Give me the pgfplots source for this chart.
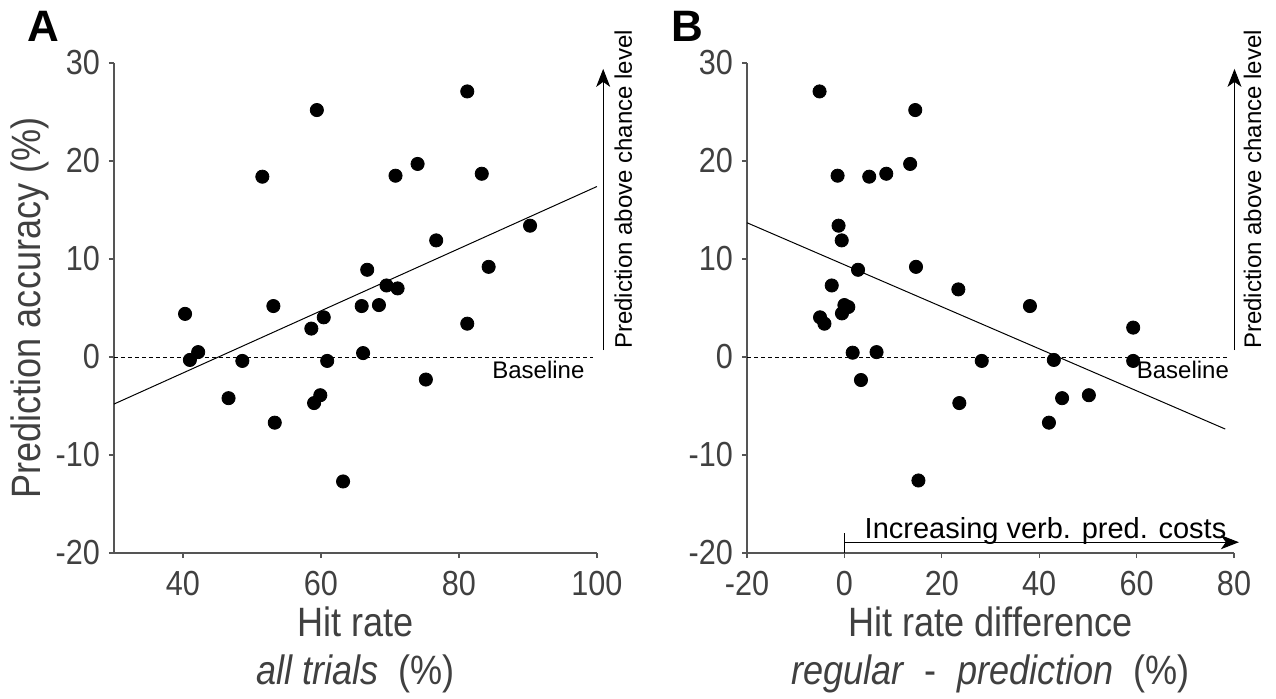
\documentclass[border=0pt]{standalone}
\usepackage{pgfplots}
\pgfplotsset{compat=1.18}
\usepackage{pgfplotstable}
\usepackage{fontspec}
\setmainfont{Liberation Sans}
\newfontfamily\narrowfont{Liberation Sans}[FakeStretch=0.88]
\usetikzlibrary{arrows.meta}
\definecolor{txt}{HTML}{404040}
\definecolor{axc}{HTML}{555555}

\pgfplotstableread{
x y
40.3 4.4
41.0 -0.3
42.2 0.5
46.6 -4.2
48.6 -0.4
51.5 18.4
53.1 5.2
53.3 -6.7
58.6 2.9
59.0 -4.7
59.4 25.2
59.9 -3.9
60.4 4.05
60.9 -0.4
63.2 -12.7
65.9 5.2
66.1 0.4
66.7 8.9
68.4 5.3
69.5 7.3
70.8 18.5
71.1 7.0
74.0 19.7
75.2 -2.3
76.7 11.9
81.2 27.1
81.2 3.4
83.3 18.7
84.3 9.2
90.3 13.4
}\dataA

\pgfplotstableread{
x y
-5.1 27.1
14.55 25.2
-1.4 18.5
5.1 18.4
8.6 18.7
13.5 19.7
-1.2 13.4
-0.55 11.9
2.8 8.9
14.7 9.2
23.4 6.9
-2.6 7.3
0.0 5.3
0.8 5.1
-5.0 4.05
-4.1 3.4
-0.5 4.45
1.7 0.44
6.6 0.5
3.4 -2.35
23.6 -4.7
15.2 -12.6
38.1 5.2
59.3 3.0
28.2 -0.4
43.0 -0.3
59.3 -0.4
44.7 -4.2
50.2 -3.9
42.0 -6.7
}\dataB

\begin{document}
\begin{tikzpicture}
\useasboundingbox (0,0) rectangle (638pt,349pt);
\pgfplotsset{
  panel/.style={
    scale only axis, height=245pt,
    axis x line=bottom, axis y line=left,
    axis line style={-, draw=axc, line width=0.6pt},
    tick align=outside, major tick length=2.5pt,
    tick style={draw=axc, line width=0.6pt},
    ymin=-20, ymax=30, ytick={-20,-10,0,10,20,30},
    yticklabels={-20,-10,0,10,20,30},
    ticklabel style={font=\narrowfont\fontsize{17.4}{20}\selectfont, text=txt},
    xticklabel style={yshift=-3pt},
    yticklabel style={xshift=-1pt},
    clip=false,
    label style={font=\narrowfont\fontsize{20.5}{24}\selectfont, text=txt},
  }
}
\begin{axis}[panel, at={(57pt,72.5pt)}, anchor=south west, width=241.5pt,
  xmin=30, xmax=100, xtick={40,60,80,100}, xticklabels={40,60,80,100},
  ylabel={Prediction accuracy (\%)},
  ylabel style={at={([xshift=-42pt]axis description cs:0,0.5)}, anchor=center},
  xlabel={Hit rate\\\textit{all trials}~~(\%)},
  xlabel style={at={([yshift=-48.5pt]axis description cs:0.5,0)}, anchor=center, align=center},
]
\addplot[black, dash pattern=on 2pt off 1.5pt, line width=0.5pt] coordinates {(30,0) (99.4,0)};
\addplot[black, line width=0.5pt] coordinates {(30,-4.8) (100,17.4)};
\addplot[only marks, mark=*, mark size=3.3pt, black] table {\dataA};
\node[anchor=east, font=\fontsize{12}{14}\selectfont] at (axis cs:99.2,-1.35) {Baseline};
\draw[black, line width=0.5pt, -{Stealth[length=9pt,width=7pt,inset=2.5pt]}] (axis cs:100.9,0.7) -- (axis cs:100.9,29.4);
\node[rotate=90, anchor=west, font=\fontsize{12}{14}\selectfont] at (axis cs:103.8,0.1) {Prediction above chance level};
\end{axis}

\begin{axis}[panel, at={(373.5pt,72.5pt)}, anchor=south west, width=243.5pt,
  xmin=-20, xmax=80, xtick={-20,0,20,40,60,80}, xticklabels={-20,0,20,40,60,80},
  xlabel={Hit rate difference\\\textit{regular}~~-~~\textit{prediction}~~(\%)},
  xlabel style={at={([yshift=-48.5pt]axis description cs:0.5,0)}, anchor=center, align=center},
]
\addplot[black, dash pattern=on 2pt off 1.5pt, line width=0.5pt] coordinates {(-20,0) (78.7,0)};
\addplot[black, line width=0.5pt] coordinates {(-20,13.7) (78.2,-7.35)};
\addplot[only marks, mark=*, mark size=3.3pt, black] table {\dataB};
\node[anchor=east, font=\fontsize{12}{14}\selectfont] at (axis cs:80.4,-1.35) {Baseline};
\draw[black, line width=0.5pt, -{Stealth[length=9pt,width=7pt,inset=2.5pt]}] (axis cs:80.1,0.7) -- (axis cs:80.1,29.4);
\node[rotate=90, anchor=west, font=\fontsize{12}{14}\selectfont] at (axis cs:83.8,0.1) {Prediction above chance level};
\draw[black, line width=0.5pt, -{Stealth[length=9pt,width=7pt,inset=2.5pt]}] (axis cs:0,-18.9) -- (axis cs:81,-18.9);
\draw[black, line width=0.6pt] (axis cs:0,-18.0) -- (axis cs:0,-20);
\node[anchor=base, font=\fontsize{14.5}{17}\selectfont] at (axis cs:41.3,-18.5) {Increasing verb. pred. costs};
\end{axis}

\node[anchor=base west, font=\bfseries\fontsize{22}{26}\selectfont] at (10pt,328pt) {A};
\node[anchor=base west, font=\bfseries\fontsize{22}{26}\selectfont] at (332pt,328pt) {B};
\end{tikzpicture}
\end{document}
